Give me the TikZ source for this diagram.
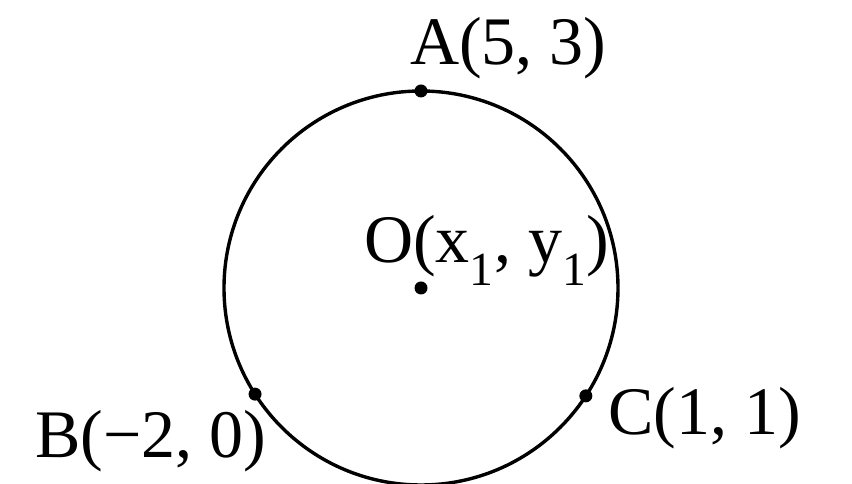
\documentclass[tikz,border=0pt]{standalone}
\usepackage{fontspec}
\setmainfont{Liberation Serif}
\usetikzlibrary{calc}
\begin{document}
\begin{tikzpicture}[x=1pt,y=1pt,
  lbl/.style={anchor=base west,inner sep=0pt,font=\fontsize{68}{74}\selectfont},
  ptdot/.style={fill=black,circle,inner sep=0pt,minimum size=13pt}]
\useasboundingbox (0,0) rectangle (852,484);
\coordinate (O) at (421,196);
\draw[line width=3.4pt] (O) circle (197);
\node[ptdot] (Od) at (O) {};
\node[ptdot] (Ad) at ($(O)+(90:197)$) {};
\node[ptdot] (Bd) at ($(O)+(212.6:197)$) {};
\node[ptdot] (Cd) at ($(O)+(-33.2:197)$) {};
\node[lbl] (Al) at (410,419) {A(5, 3)};
\node[lbl] (Ol) at (364,221) {O(x\textsubscript{1}, y\textsubscript{1})};
\node[lbl] (Bl) at (35,26) {B(−2, 0)};
\node[lbl] (Cl) at (608,49) {C(1, 1)};
\end{tikzpicture}
\end{document}
